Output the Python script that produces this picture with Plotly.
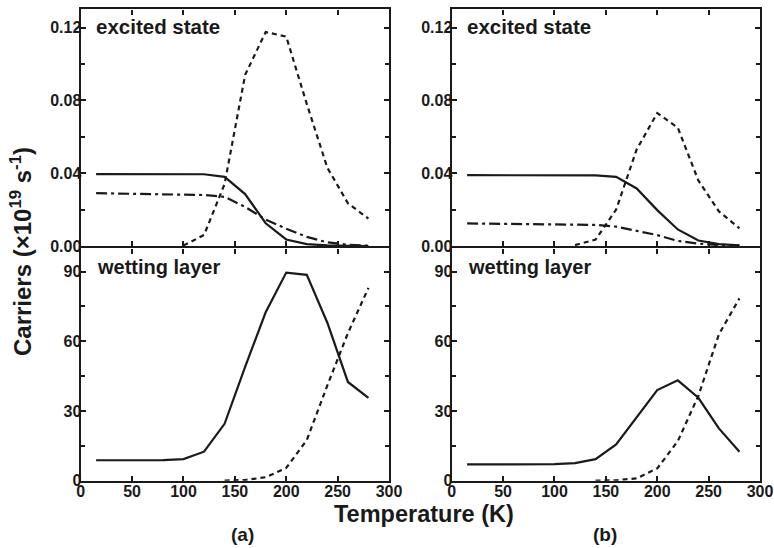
import plotly.graph_objects as go

# ---------------- data ----------------
temperature = [15, 40, 60, 80, 100, 120, 140, 160, 180, 200, 220, 240, 260, 280]

# panel (a) – excited state
a_es_solid = [0.0395, 0.0395, 0.0395, 0.0395, 0.0395, 0.0394, 0.038, 0.0285, 0.0125, 0.0036, 0.001, 0.0003, 0.0001, 0.0]
a_es_dashdot = [0.029, 0.0287, 0.0285, 0.0284, 0.0283, 0.028, 0.027, 0.0215, 0.0145, 0.0095, 0.005, 0.002, 0.0007, 0.0002]
a_es_dash = [None, None, None, None, 0.0003, 0.006, 0.034, 0.094, 0.1175, 0.115, 0.078, 0.043, 0.0235, 0.015]
# panel (a) – wetting layer
a_wl_solid = [8.8, 8.8, 8.8, 8.9, 9.3, 12.5, 24.5, 49, 72.5, 89.6, 88.6, 68, 42.5, 35.7]
a_wl_dash = [None, None, None, None, None, None, 0.05, 0.3, 1.5, 5.5, 17.5, 41, 63.5, 83]

# panel (b) – excited state
b_es_solid = [0.0389, 0.0389, 0.0389, 0.0389, 0.0389, 0.0389, 0.0388, 0.038, 0.0316, 0.0197, 0.0091, 0.003, 0.001, 0.0004]
b_es_dashdot = [0.0124, 0.0122, 0.0121, 0.012, 0.012, 0.0118, 0.0116, 0.0106, 0.0083, 0.006, 0.0028, 0.0013, 0.0005, 0.0002]
b_es_dash = [None, None, None, None, None, 0.0005, 0.0035, 0.02, 0.053, 0.073, 0.065, 0.036, 0.019, 0.0097]
# panel (b) – wetting layer
b_wl_solid = [7.0, 7.0, 7.0, 7.0, 7.1, 7.6, 9.3, 15.6, 27.5, 39, 43.2, 35.7, 22.5, 12.5]
b_wl_dash = [None, None, None, None, None, None, 0.05, 0.2, 1.0, 5.3, 17, 36.5, 63, 78.5]

x_ticks = [0, 50, 100, 150, 200, 250, 300]
es_ticks = [0.0, 0.04, 0.08, 0.12]
wl_ticks = [0, 30, 60, 90]

# ---------------- layout helpers ----------------
W, H = 774, 548
FONT = "Liberation Sans, Arial, sans-serif"
INK = "#1a1a1a"
AX_LW = 2.4

def px_x(p):
    return p / W

def px_y(p):
    return 1 - p / H

left_dom = [px_x(80.7), px_x(389)]
right_dom = [px_x(451.7), px_x(760)]
top_dom = [px_y(246), px_y(9.3)]
bot_dom = [px_y(480.7), px_y(246 + AX_LW)]

fig = go.Figure()

LW = 2.2
dash_style = "5px,4px"
dashdot_style = "11px,4px,3px,4px"

def add(y, xa, ya, dash):
    fig.add_trace(go.Scatter(x=temperature, y=y, mode="lines", xaxis=xa, yaxis=ya,
                             line=dict(color=INK, width=LW, dash=dash),
                             connectgaps=False, showlegend=False, hoverinfo="skip"))

add(a_es_solid, "x", "y", "solid")
add(a_es_dashdot, "x", "y", dashdot_style)
add(a_es_dash, "x", "y", dash_style)
add(a_wl_solid, "x2", "y2", "solid")
add(a_wl_dash, "x2", "y2", dash_style)
add(b_es_solid, "x3", "y3", "solid")
add(b_es_dashdot, "x3", "y3", dashdot_style)
add(b_es_dash, "x3", "y3", dash_style)
add(b_wl_solid, "x4", "y4", "solid")
add(b_wl_dash, "x4", "y4", dash_style)

tickfont = dict(family=FONT, size=16, color=INK, weight="bold")

def xaxis(dom, anchor, labels):
    return dict(domain=dom, anchor=anchor, range=[0, 300], tickvals=x_ticks,
                showticklabels=labels, ticks="inside", ticklen=5, tickwidth=2,
                tickcolor=INK, showline=True, linewidth=AX_LW, linecolor=INK,
                mirror="ticks", showgrid=False, zeroline=False, tickfont=tickfont,
                ticklabelstandoff=-5, automargin=False)

def yaxis(dom, anchor, rng, vals, fmt, minor):
    return dict(domain=dom, anchor=anchor, range=rng, tickvals=vals, tickformat=fmt,
                ticks="inside", ticklen=5, tickwidth=2, tickcolor=INK,
                minor=dict(dtick=minor, tick0=0, ticks="inside", ticklen=4, tickwidth=2,
                           tickcolor=INK, showgrid=False),
                showline=True, linewidth=AX_LW, linecolor=INK, mirror="ticks",
                showgrid=False, zeroline=False, tickfont=tickfont,
                ticklabelstandoff=-6, automargin=False)

fig.update_layout(
    width=W, height=H, autosize=False, margin=dict(l=0, r=0, t=0, b=0, pad=0),
    paper_bgcolor="white", plot_bgcolor="white",
    xaxis=xaxis(left_dom, "y", False),
    xaxis2=xaxis(left_dom, "y2", True),
    xaxis3=xaxis(right_dom, "y3", False),
    xaxis4=xaxis(right_dom, "y4", True),
    yaxis=yaxis(top_dom, "x", [0, 0.13], es_ticks, ".2f", 0.02),
    yaxis2=yaxis(bot_dom, "x2", [0, 100], wl_ticks, "d", 15),
    yaxis3=yaxis(top_dom, "x3", [0, 0.13], es_ticks, ".2f", 0.02),
    yaxis4=yaxis(bot_dom, "x4", [0, 100], wl_ticks, "d", 15),
)

def ann(text, x, y, size, xanchor="center", yanchor="middle", angle=0):
    fig.add_annotation(text=text, x=px_x(x), y=px_y(y), xref="paper", yref="paper",
                       xanchor=xanchor, yanchor=yanchor, showarrow=False, textangle=angle,
                       font=dict(family=FONT, size=size, color=INK))

ann("<b>excited state</b>", 94, 26, 20.5, xanchor="left")
ann("<b>excited state</b>", 465, 26, 20.5, xanchor="left")
ann("<b>wetting layer</b>", 95, 267, 20, xanchor="left")
ann("<b>wetting layer</b>", 466, 267, 20, xanchor="left")
ann("<b>Temperature (K)</b>", 424, 514, 23.5)
ann("<b>(a)</b>", 242, 534, 19)
ann("<b>(b)</b>", 605, 534, 19)
ann("<b>Carriers (×10<sup>19</sup> s<sup>-1</sup>)</b>", 21, 252, 24, angle=-90)

css_fix = (
    "document.documentElement.style.margin='0';"
    "document.documentElement.style.overflow='hidden';"
    "document.body.style.margin='0';"
    "document.body.style.overflow='hidden';"
)

fig.write_html("out.html", config={"displayModeBar": False}, post_script=css_fix)
